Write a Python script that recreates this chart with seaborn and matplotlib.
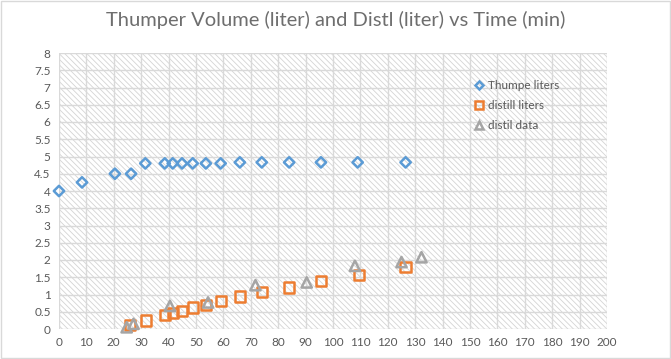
import matplotlib
matplotlib.use("agg")
import matplotlib.pyplot as plt
from matplotlib.lines import Line2D
from matplotlib.patches import Rectangle
import seaborn as sns
import pandas as pd

# data
thump_time = [0, 8.4, 20.4, 26.3, 31.5, 38.6, 41.5, 44.9, 48.8, 53.6, 59, 66, 74, 84, 95.6, 109, 126.5]
thump_liters = [4.0, 4.25, 4.5, 4.5, 4.8, 4.8, 4.8, 4.8, 4.8, 4.8, 4.8, 4.83, 4.83, 4.83, 4.83, 4.83, 4.83]

distill_time = [25.8, 31.7, 38.6, 41.5, 44.9, 48.8, 53.6, 59, 66, 74.1, 83.9, 95.5, 109.4, 126.5]
distill_liters = [0.12, 0.25, 0.41, 0.46, 0.53, 0.62, 0.70, 0.82, 0.94, 1.07, 1.2, 1.4, 1.57, 1.8]

data_time = [24.7, 27.2, 40.5, 54.4, 71.7, 90.4, 108, 125, 132.3]
data_liters = [0.05, 0.15, 0.67, 0.77, 1.27, 1.35, 1.83, 1.94, 2.08]

blue = "#5B9BD5"
orange = "#ED7D31"
gray = "#A5A5A5"
txt = "#595959"

sns.set_style("white")
plt.rcParams['font.family'] = ['Lato', 'DejaVu Sans']
plt.rcParams['hatch.color'] = "#D4D4D4"
plt.rcParams['hatch.linewidth'] = 0.6

fig = plt.figure(figsize=(6.71, 3.59), dpi=100)
ax = fig.add_axes([59 / 671, 30 / 359, 548 / 671, 276 / 359])

# hatched plot area like the excel pattern fill
ax.add_patch(Rectangle((0, 0), 1, 1, transform=ax.transAxes, facecolor="white",
                       edgecolor="#D4D4D4", hatch="\\\\\\\\\\\\", linewidth=0, zorder=0))

series = [
    (thump_time, thump_liters, blue, "D", 28, "Thumpe liters"),
    (distill_time, distill_liters, orange, "s", 55, "distill liters"),
    (data_time, data_liters, gray, "^", 55, "distil data"),
]
for t, v, c, m, s, lab in series:
    df = pd.DataFrame({"time": t, "liters": v})
    sns.scatterplot(data=df, x="time", y="liters", ax=ax, marker=m, s=s,
                    facecolors="none", edgecolor=c, linewidth=1.8, zorder=3, clip_on=False)

ax.set_xlim(0, 200)
ax.set_ylim(0, 8)
ax.set_xticks(range(0, 201, 10))
ax.set_yticks([i * 0.5 for i in range(17)])
ax.set_yticklabels([f"{i * 0.5:g}" for i in range(17)])
ax.grid(True, color="#D9D9D9", linewidth=1)
ax.set_axisbelow(True)
for sp in ax.spines.values():
    sp.set_visible(False)
ax.tick_params(length=0, labelsize=8.5, colors=txt, pad=6)
ax.set_xlabel("")
ax.set_ylabel("")

handles = [Line2D([], [], marker=m, linestyle="none", markerfacecolor="none",
                  markeredgecolor=c, markeredgewidth=1.8, markersize=4.5 if m == "D" else 6)
           for _, _, c, m, _, _ in series]
labels = [lab for *_, lab in series]
leg = ax.legend(handles, labels, loc="upper left", bbox_to_anchor=(0.735, 0.94),
                frameon=False, fontsize=8.5, handletextpad=0.1, labelspacing=0.75,
                handlelength=1.2)
for t in leg.get_texts():
    t.set_color(txt)

fig.text(0.5, 0.945, "Thumper Volume (liter) and Distl (liter) vs Time (min)",
         ha="center", va="center", fontsize=14.5, color="#6E6E6E")

fig.patches.append(Rectangle((0.001, 0.002), 0.997, 0.995, transform=fig.transFigure,
                             fill=False, edgecolor="#D9D9D9", linewidth=1))

plt.savefig("out.png", dpi=100)
